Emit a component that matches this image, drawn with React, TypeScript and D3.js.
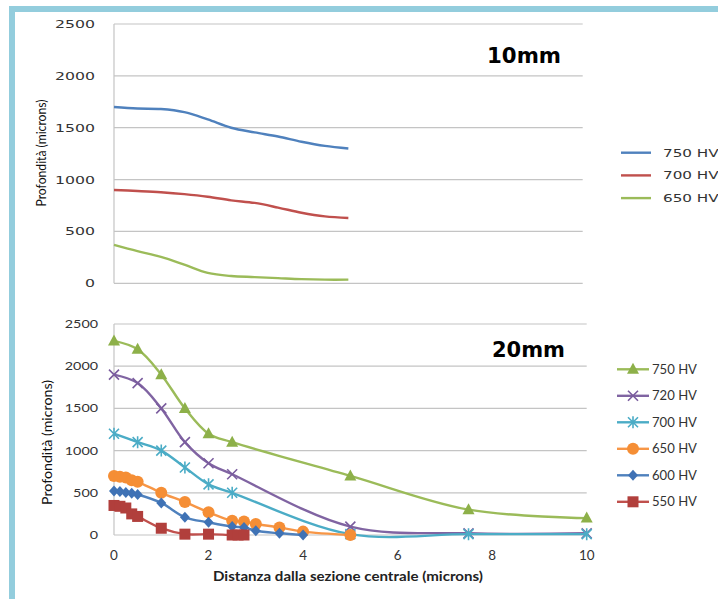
import React from "react";
import * as d3 from "d3";

const yTicks = [0, 500, 1000, 1500, 2000, 2500];
const xTicks = [0, 2, 4, 6, 8, 10];

// Top chart (10mm)
const topDist = [0, 0.5, 1, 1.5, 2, 2.5, 3, 3.5, 4, 4.5, 5];
const top750 = [1700, 1685, 1680, 1650, 1580, 1500, 1455, 1415, 1365, 1325, 1300];
const top700 = [900, 890, 878, 860, 835, 800, 775, 730, 680, 645, 630];
const top650 = [370, 310, 255, 180, 100, 70, 60, 50, 40, 35, 35];
const topNames = ["750 HV", "700 HV", "650 HV"];
const topColors = ["#4F81BD", "#C0504D", "#9BBB59"];

// Bottom chart (20mm)
const x750 = [0, 0.5, 1, 1.5, 2, 2.5, 5, 7.5, 10];
const y750 = [2300, 2200, 1900, 1500, 1200, 1100, 700, 300, 200];
const x720 = [0, 0.5, 1, 1.5, 2, 2.5, 5, 7.5, 10];
const y720 = [1900, 1800, 1500, 1100, 850, 720, 100, 20, 20];
const x700 = [0, 0.5, 1, 1.5, 2, 2.5, 5, 7.5, 10];
const y700 = [1200, 1100, 1000, 800, 600, 500, 10, 10, 10];
const x650 = [0, 0.125, 0.25, 0.375, 0.5, 1, 1.5, 2, 2.5, 2.75, 3, 3.5, 4, 5];
const y650 = [700, 690, 680, 650, 630, 500, 390, 270, 170, 160, 130, 90, 40, 0];
const x600 = [0, 0.125, 0.25, 0.375, 0.5, 1, 1.5, 2, 2.5, 2.75, 3, 3.5, 4];
const y600 = [520, 515, 505, 495, 480, 380, 210, 150, 100, 90, 50, 20, 0];
const x550 = [0, 0.125, 0.25, 0.375, 0.5, 1, 1.5, 2, 2.5, 2.625, 2.75];
const y550 = [350, 340, 320, 250, 220, 80, 10, 10, 0, 0, 0];
const botNames = ["750 HV", "720 HV", "700 HV", "650 HV", "600 HV", "550 HV"];
const botColors = ["#9BBB59", "#8064A2", "#4BACC6", "#F79646", "#4F81BD", "#C0504D"];
const botMarkerColors = ["#8DB049", "#7A5C9E", "#4BACC6", "#F58E35", "#3F72B5", "#B13F3C"];
const botShapes = ["triangle", "x", "asterisk", "circle", "diamond", "square"];

function Marker({ shape, cx, cy, color }: { shape: string; cx: number; cy: number; color: string }) {
  const s = 5.5;
  if (shape === "triangle")
    return <path d={`M${cx},${cy - s - 1}L${cx + s + 0.5},${cy + s - 1}L${cx - s - 0.5},${cy + s - 1}Z`} fill={color} />;
  if (shape === "square") return <rect x={cx - 5.5} y={cy - 5.5} width={11} height={11} fill={color} />;
  if (shape === "circle") return <circle cx={cx} cy={cy} r={6} fill={color} />;
  if (shape === "diamond") return <path d={`M${cx},${cy - 5.5}L${cx + 5},${cy}L${cx},${cy + 5.5}L${cx - 5},${cy}Z`} fill={color} />;
  if (shape === "x")
    return <path d={`M${cx - 5},${cy - 5}L${cx + 5},${cy + 5}M${cx + 5},${cy - 5}L${cx - 5},${cy + 5}`} stroke={color} strokeWidth={1.6} />;
  return (
    <path
      d={`M${cx - 5},${cy - 5}L${cx + 5},${cy + 5}M${cx + 5},${cy - 5}L${cx - 5},${cy + 5}M${cx},${cy - 6}L${cx},${cy + 6}`}
      stroke={color}
      strokeWidth={1.6}
    />
  );
}

export default function App() {
  const W = 718;
  const H = 599;

  const xTop = d3.scaleLinear().domain([0, 10]).range([114, 582.7]);
  const yTop = d3.scaleLinear().domain([0, 2500]).range([283.3, 24]);
  const xBot = d3.scaleLinear().domain([0, 10]).range([114, 586.7]);
  const yBot = d3.scaleLinear().domain([0, 2500]).range([535, 324]);

  const curve = d3.curveCatmullRom.alpha(0.5);
  const topSeries = [top750, top700, top650];
  const botX = [x750, x720, x700, x650, x600, x550];
  const botY = [y750, y720, y700, y650, y600, y550];

  const topLine = d3
    .line<number[]>()
    .x((d) => xTop(d[0]))
    .y((d) => yTop(d[1]))
    .curve(curve);
  const botLine = d3
    .line<number[]>()
    .x((d) => xBot(d[0]))
    .y((d) => yBot(d[1]))
    .curve(curve);

  const grid = "#C4C4C4";

  return (
    <svg width={W} height={H} style={{ position: "absolute", left: 0, top: 0, background: "#fff" }}>
      {/* frame */}
      <rect x={9} y={6} width={W - 9} height={6} fill="#93CDDD" />
      <rect x={9} y={6} width={6} height={H - 6} fill="#93CDDD" />

      {/* ---------- TOP CHART ---------- */}
      {yTicks.map((t) => (
        <line key={"tg" + t} x1={114} x2={582.7} y1={yTop(t)} y2={yTop(t)} stroke={grid} strokeWidth={1.2} />
      ))}
      <line x1={114} x2={114} y1={yTop(2500)} y2={yTop(0)} stroke={grid} strokeWidth={1.2} />
      {yTicks.map((t) => (
        <text
          key={"tt" + t}
          x={95}
          y={yTop(t) + 4}
          textAnchor="end"
          fontFamily="DejaVu Sans"
          fontSize={10.5}
          fill="#333"
          textLength={String(t).length * 10}
          lengthAdjust="spacingAndGlyphs"
        >
          {t}
        </text>
      ))}
      <text
        transform="translate(46,153) rotate(-90)"
        textAnchor="middle"
        fontFamily="Lato"
        fontSize={12.5}
        fill="#111"
        textLength={107}
        lengthAdjust="spacingAndGlyphs"
      >
        Profondità (microns)
      </text>
      {topSeries.map((ys, i) => (
        <path
          key={"tl" + i}
          d={topLine(topDist.map((x, j) => [x, ys[j]])) || ""}
          fill="none"
          stroke={topColors[i]}
          strokeWidth={2.4}
        />
      ))}
      <text x={487} y={63} fontFamily="DejaVu Sans" fontWeight="bold" fontSize={22} fill="#000" textLength={74} lengthAdjust="spacingAndGlyphs">
        10mm
      </text>
      {topNames.map((n, i) => (
        <g key={"tlg" + i}>
          <line x1={621} x2={651} y1={152.7 + i * 22.7} y2={152.7 + i * 22.7} stroke={topColors[i]} strokeWidth={2.4} />
          <text
            transform={`translate(663,${152.7 + i * 22.7 + 4}) scale(1.45,1)`}
            fontFamily="DejaVu Sans"
            fontSize={10.5}
            fill="#333"
          >
            {n}
          </text>
        </g>
      ))}

      {/* ---------- BOTTOM CHART ---------- */}
      {yTicks.map((t) => (
        <line key={"bg" + t} x1={114} x2={586.7} y1={yBot(t)} y2={yBot(t)} stroke={grid} strokeWidth={1.2} />
      ))}
      <line x1={114} x2={114} y1={yBot(2500)} y2={yBot(0)} stroke={grid} strokeWidth={1.2} />
      {yTicks.map((t) => (
        <text
          key={"bt" + t}
          x={98}
          y={yBot(t) + 4}
          textAnchor="end"
          fontFamily="Lato"
          fontSize={11.5}
          fill="#333"
          textLength={String(t).length * 8.3}
          lengthAdjust="spacingAndGlyphs"
        >
          {t}
        </text>
      ))}
      {xTicks.map((t) => (
        <text
          key={"bx" + t}
          x={xBot(t)}
          y={560}
          textAnchor="middle"
          fontFamily="Lato"
          fontSize={12.5}
          fill="#333"
          textLength={String(t).length * 7.8}
          lengthAdjust="spacingAndGlyphs"
        >
          {t}
        </text>
      ))}
      <text
        transform="translate(52,442.5) rotate(-90)"
        textAnchor="middle"
        fontFamily="Lato"
        fontSize={13.5}
        fill="#111"
        textLength={125}
        lengthAdjust="spacingAndGlyphs"
      >
        Profondità (microns)
      </text>
      <text
        x={348}
        y={581}
        textAnchor="middle"
        fontFamily="Lato"
        fontWeight="bold"
        fontSize={12.5}
        fill="#222"
        textLength={270}
        lengthAdjust="spacingAndGlyphs"
      >
        Distanza dalla sezione centrale (microns)
      </text>
      {botX.map((xs, i) => (
        <g key={"bs" + i}>
          <path
            d={botLine(xs.map((x, j) => [x, botY[i][j]])) || ""}
            fill="none"
            stroke={botColors[i]}
            strokeWidth={2.4}
          />
          {xs.map((x, j) => (
            <Marker key={j} shape={botShapes[i]} cx={xBot(x)} cy={yBot(botY[i][j])} color={botMarkerColors[i]} />
          ))}
        </g>
      ))}
      <text x={492} y={357} fontFamily="DejaVu Sans" fontWeight="bold" fontSize={22} fill="#000" textLength={73} lengthAdjust="spacingAndGlyphs">
        20mm
      </text>
      {botNames.map((n, i) => {
        const y = 369.3 + i * 26.5;
        return (
          <g key={"blg" + i}>
            <line x1={617} x2={649} y1={y} y2={y} stroke={botColors[i]} strokeWidth={2.4} />
            <Marker shape={botShapes[i]} cx={633} cy={y} color={botMarkerColors[i]} />
            <text
              x={652}
              y={y + 4.5}
              fontFamily="Lato"
              fontSize={12.5}
              fill="#333"
              textLength={45}
              lengthAdjust="spacingAndGlyphs"
            >
              {n}
            </text>
          </g>
        );
      })}
    </svg>
  );
}
